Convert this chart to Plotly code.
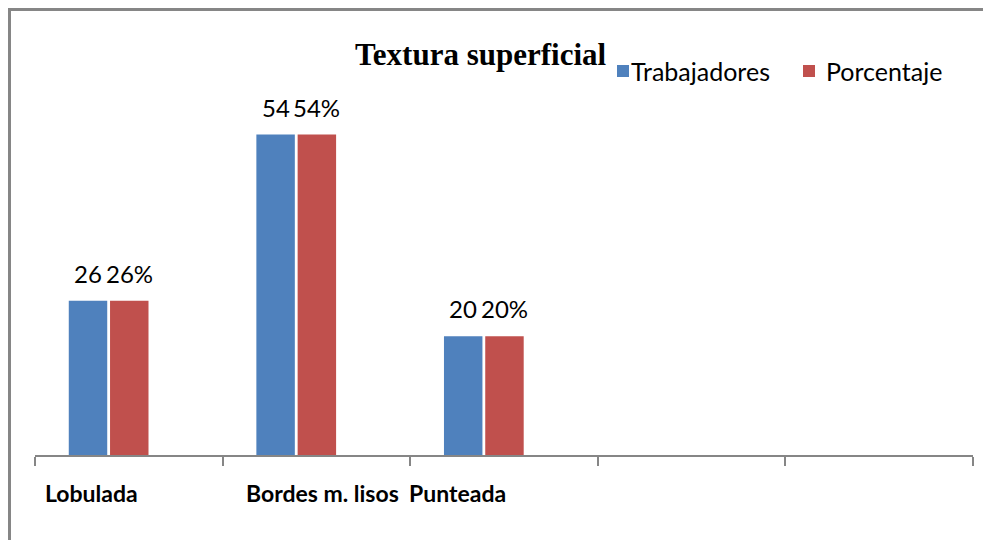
import plotly.graph_objects as go

# ---- data ----
categories = ["Lobulada", "Bordes m. lisos", "Punteada", "", ""]
trabajadores = [26, 54, 20, None, None]
porcentaje = [26, 54, 20, None, None]
porcentaje_labels = ["26%", "54%", "20%", "", ""]
series_names = ["Trabajadores", "Porcentaje"]
title_text = "Textura superficial"

# ---- style ----
W, H = 991, 540
BODY = 8  # default page margin around the plot div
# plot area in window pixels (from the reference)
PX_L, PX_R, PX_T, PX_B = 35, 973, 99, 455
ML = PX_L - BODY
MR = W - (PX_R - BODY)
MT = PX_T - BODY
MB = H - (PX_B - BODY)
BLUE = "#4F81BD"
RED = "#C0504D"
AXIS = "#868686"
SANS = "Lato, 'Liberation Sans', Arial, sans-serif"
BAR_W = 0.205
OFF_BLUE = -0.32
OFF_RED = -0.10
label_shift = [-0.20, 0.03, -0.25, 0, 0]  # category label horizontal nudges

PW = PX_R - PX_L
PH = PX_B - PX_T


def px_x(px):
    return (px - PX_L) / PW


def px_y(py):
    return (PX_B - py) / PH


xs = list(range(len(categories)))

fig = go.Figure()
fig.add_trace(go.Bar(x=xs, y=trabajadores, name=series_names[0], width=BAR_W,
                     offset=OFF_BLUE, marker=dict(color=BLUE, line=dict(width=0)),
                     showlegend=False))
fig.add_trace(go.Bar(x=xs, y=porcentaje, name=series_names[1], width=BAR_W,
                     offset=OFF_RED, marker=dict(color=RED, line=dict(width=0)),
                     showlegend=False))

annotations = []
# value labels
for i, (v, p, pl) in enumerate(zip(trabajadores, porcentaje, porcentaje_labels)):
    if v is not None:
        annotations.append(dict(x=i + OFF_BLUE + BAR_W / 2, y=v, xref="x", yref="y",
                                text=str(v), showarrow=False, yanchor="bottom", yshift=11,
                                font=dict(family=SANS, size=24, color="#000")))
    if p is not None:
        annotations.append(dict(x=i + OFF_RED + BAR_W / 2, y=p, xref="x", yref="y",
                                text=pl, showarrow=False, yanchor="bottom", yshift=11,
                                font=dict(family=SANS, size=24, color="#000")))
# category labels
for i, c in enumerate(categories):
    if c:
        annotations.append(dict(x=i + label_shift[i], y=px_y(493), xref="x", yref="paper",
                                text="<b>%s</b>" % c, showarrow=False, yanchor="middle",
                                font=dict(family=SANS, size=23, color="#000")))
# title
annotations.append(dict(x=px_x(481), y=px_y(55), xref="paper", yref="paper",
                        text="<b>%s</b>" % title_text, showarrow=False, yanchor="middle",
                        font=dict(family="'Liberation Serif', 'Times New Roman', serif",
                                  size=31, color="#000")))
# legend texts
annotations.append(dict(x=px_x(629), y=px_y(71), xref="paper", yref="paper",
                        text=series_names[0], showarrow=False, xanchor="left", yanchor="middle",
                        font=dict(family=SANS, size=25, color="#000")))
annotations.append(dict(x=px_x(824), y=px_y(71), xref="paper", yref="paper",
                        text=series_names[1], showarrow=False, xanchor="left", yanchor="middle",
                        font=dict(family=SANS, size=25, color="#000")))

shapes = [
    # legend squares
    dict(type="rect", xref="paper", yref="paper", x0=px_x(617), x1=px_x(629),
         y0=px_y(77), y1=px_y(65), fillcolor=BLUE, line=dict(width=0)),
    dict(type="rect", xref="paper", yref="paper", x0=px_x(803), x1=px_x(815),
         y0=px_y(77), y1=px_y(65), fillcolor=RED, line=dict(width=0)),
    # outer frame (left + top), drawn at the figure's edge
    dict(type="line", xref="paper", yref="paper", x0=px_x(BODY + 1.5), x1=px_x(BODY + 1.5),
         y0=px_y(BODY + 0.5), y1=px_y(560), line=dict(color=AXIS, width=3)),
    dict(type="line", xref="paper", yref="paper", x0=px_x(BODY), x1=px_x(1010),
         y0=px_y(BODY + 1.5), y1=px_y(BODY + 1.5), line=dict(color=AXIS, width=3)),
]

fig.update_layout(
    width=W, height=H,
    margin=dict(l=ML, r=MR, t=MT, b=MB),
    paper_bgcolor="white", plot_bgcolor="white",
    showlegend=False,
    annotations=annotations,
    shapes=shapes,
    xaxis=dict(range=[-0.5, len(categories) - 0.5], tickmode="array",
               tickvals=[i - 0.5 for i in range(len(categories) + 1)],
               ticktext=["" for _ in range(len(categories) + 1)],
               ticks="outside", ticklen=9, tickcolor=AXIS, tickwidth=1.5,
               showline=True, linecolor=AXIS, linewidth=1.5,
               showgrid=False, zeroline=False, fixedrange=True),
    yaxis=dict(range=[0, 60], visible=False, showgrid=False, zeroline=False),
)

fig.write_html("out.html")
